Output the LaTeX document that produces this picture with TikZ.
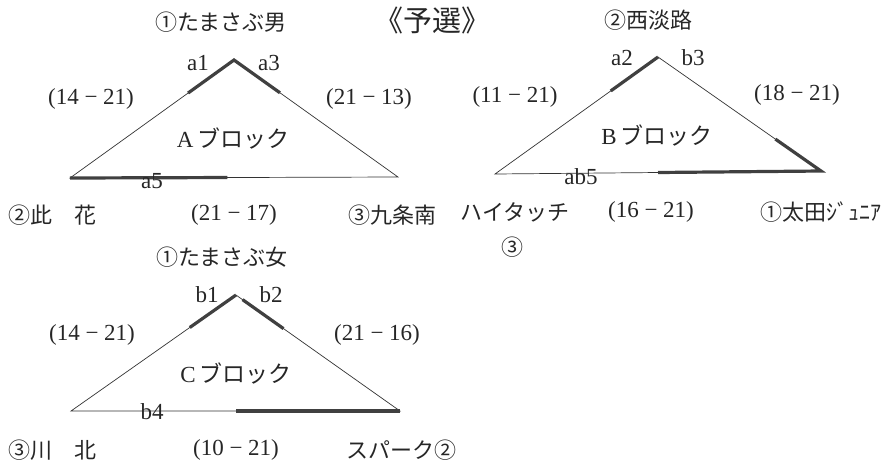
\documentclass[tikz,border=0pt]{standalone}
\usepackage{fontspec}
\setmainfont{Liberation Serif}
\newfontfamily\jp{Noto Sans CJK JP}
\usetikzlibrary{calc}
\tikzset{
  side/.style={line width=0.7pt,black!80},
  win/.style={line width=3.2pt,black!75},
  lbl/.style={font=\fontsize{23}{26}\selectfont,text=black!85,inner sep=0pt},
  team/.style={font=\jp\fontsize{22}{25}\selectfont,text=black!85,inner sep=0pt}
}
\begin{document}
\begin{tikzpicture}[x=1pt,y=-1pt]
  \useasboundingbox (0,0) rectangle (883,467);
  % title
  \node[team,font=\jp\fontsize{29}{32}\selectfont] (title) at (432,20) {《予選》};
  % A block
  \coordinate (Atop) at (234,60);
  \coordinate (Aleft) at (70,178);
  \coordinate (Aright) at (398,177);
  \draw[side] (Atop) -- (Aleft) -- (Aright) -- cycle;
  \draw[win] ($(Atop)!0.28!(Aleft)$) -- (Atop) -- ($(Atop)!0.28!(Aright)$);
  \draw[win] (Aleft) -- ($(Aleft)!0.48!(Aright)$);
  \node[team] (Ahead) at (221,22) {①たまさぶ男};
  \node[lbl] (a1) at (198,63) {a1};
  \node[lbl] (a3) at (269,63) {a3};
  \node[lbl] (Ascore1) at (91,99) {(14 − 21)};
  \node[lbl] (Ascore2) at (369,99) {(21 − 13)};
  \node[lbl] (Ablock) at (233,138) {A\,{\jp ブロック}};
  \node[lbl] (a5) at (152,181) {a5};
  \node[team,anchor=west] (Aleftname) at (8,215) {②此　花};
  \node[lbl] (Ascore3) at (234,215) {(21 − 17)};
  \node[team] (Arightname) at (392,215) {③九条南};
  % B block
  \coordinate (Btop) at (658,57);
  \coordinate (Bleft) at (495,174);
  \coordinate (Bright) at (821,171);
  \draw[side] (Btop) -- (Bleft) -- (Bright) -- cycle;
  \draw[win] ($(Btop)!0.29!(Bleft)$) -- (Btop);
  \draw[win] ($(Bright)!0.28!(Btop)$) -- (Bright) -- ($(Bright)!0.5!(Bleft)$);
  \node[team] (Bhead) at (648,20) {②西淡路};
  \node[lbl] (a2) at (622,58) {a2};
  \node[lbl] (b3) at (693,58) {b3};
  \node[lbl] (Bscore1) at (515,97) {(11 − 21)};
  \node[lbl] (Bscore2) at (797,95) {(18 − 21)};
  \node[lbl] (Bblock) at (657,135) {B\,{\jp ブロック}};
  \node[lbl] (ab5) at (581,177) {ab5};
  \node[team] (Bleftname) at (515,212) {ハイタッチ};
  \node[lbl] (Bscore3) at (651,212) {(16 − 21)};
  \node[team] (Brightname) at (821,212) {①太田ｼﾞｭﾆｱ};
  \node[team] (Bthird) at (512,247) {③};
  % C block
  \coordinate (Ctop) at (236,295);
  \coordinate (Cleft) at (71,411);
  \coordinate (Cright) at (400,411);
  \draw[side] (Ctop) -- (Cleft) -- (Cright) -- cycle;
  \draw[win] ($(Ctop)!0.28!(Cleft)$) -- (Ctop);
  \draw[win] ($(Ctop)!0.04!(Cright)$) -- ($(Ctop)!0.29!(Cright)$);
  \draw[win] (Cright) -- ($(Cright)!0.5!(Cleft)$);
  \node[team] (Chead) at (222,257) {①たまさぶ女};
  \node[lbl] (b1) at (207,295) {b1};
  \node[lbl] (b2) at (271,295) {b2};
  \node[lbl] (Cscore1) at (92,335) {(14 − 21)};
  \node[lbl] (Cscore2) at (377,335) {(21 − 16)};
  \node[lbl] (Cblock) at (236,373) {C\,{\jp ブロック}};
  \node[lbl] (b4) at (152,412) {b4};
  \node[team,anchor=west] (Cleftname) at (8,450) {③川　北};
  \node[lbl] (Cscore3) at (236,450) {(10 − 21)};
  \node[team] (Crightname) at (401,450) {スパーク②};
\end{tikzpicture}
\end{document}
